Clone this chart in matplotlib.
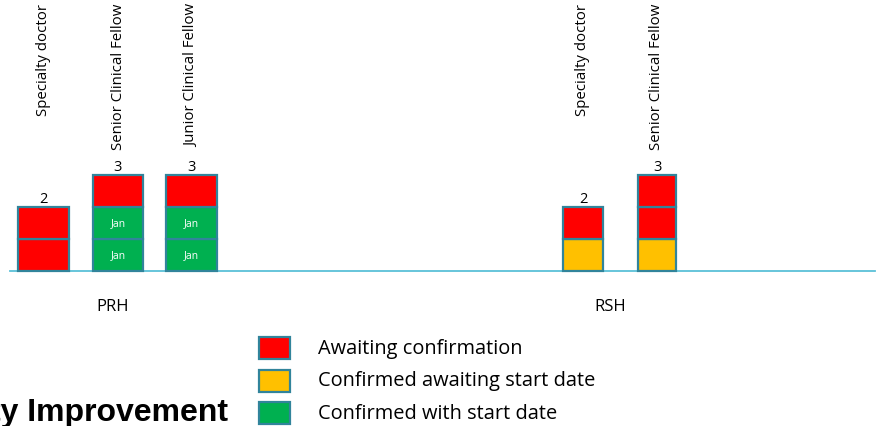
import matplotlib
matplotlib.use('Agg')
import matplotlib.pyplot as plt
from matplotlib.patches import Rectangle

# 数据
roles = ['Specialty doctor', 'Senior Clinical Fellow', 'Junior Clinical Fellow',
         'Specialty doctor', 'Senior Clinical Fellow']
sites = ['PRH', 'RSH']
awaiting = [2, 1, 1, 1, 2]            # 红色
confirmed_waiting = [0, 0, 0, 1, 1]   # 黄色
confirmed_start = [0, 2, 2, 0, 0]     # 绿色
start_month = 'Jan'
legend_labels = ['Awaiting confirmation', 'Confirmed awaiting start date',
                 'Confirmed with start date']

RED, YELLOW, GREEN = '#FF0000', '#FFC000', '#00B050'
EDGE = '#31849B'
LINE = '#5BC0D8'

# 布局 (像素)
W, H = 881, 427
bar_x = [43.5, 118, 191.5, 583, 657]
bar_w = [51, 50, 51, 40, 38]
base_px = 272
unit_px = 32

fig = plt.figure(figsize=(W / 100, H / 100), dpi=100)
ax = fig.add_axes([0, 0, 1, 1])
ax.set_xlim(0, W)
ax.set_ylim(-(H - base_px) / unit_px, base_px / unit_px)
ax.axis('off')

# 覆盖层, 像素坐标
ov = fig.add_axes([0, 0, 1, 1])
ov.set_xlim(0, W)
ov.set_ylim(H, 0)
ov.axis('off')
ov.patch.set_alpha(0)

ax.plot([10, 875], [0, 0], color=LINE, lw=1.3, zorder=1)

for i in range(len(roles)):
    bottom = 0
    for val, col in [(confirmed_start[i], GREEN), (confirmed_waiting[i], YELLOW), (awaiting[i], RED)]:
        for k in range(val):
            ax.bar(bar_x[i], 1, width=bar_w[i], bottom=bottom, color=col,
                   edgecolor=EDGE, linewidth=1.6, zorder=2)
            if col == GREEN:
                ax.text(bar_x[i], bottom + 0.5, start_month, color='white', fontsize=7.5,
                        ha='center', va='center', family='Open Sans', zorder=3)
            bottom += 1
    total = confirmed_start[i] + confirmed_waiting[i] + awaiting[i]
    ax.text(bar_x[i], total + 0.03, str(total), ha='center', va='bottom',
            fontsize=10.5, family='Open Sans')
    ov.text(bar_x[i], 4, roles[i], rotation=90, ha='center', va='top',
            fontsize=10.8, family='Open Sans')

# 站点标签
for name, x in zip(sites, [113, 610]):
    ov.text(x, 307, name, ha='center', va='center', fontsize=12, family='Open Sans')

# 图例
for j, (lab, col) in enumerate(zip(legend_labels, [RED, YELLOW, GREEN])):
    y = 338 + j * 32.5
    ov.add_patch(Rectangle((259, y), 31, 22, facecolor=col, edgecolor=EDGE, lw=1.6))
    ov.text(318, y + 11, lab, ha='left', va='center', fontsize=14.4, family='Open Sans')

ov.text(228, 413, 'Quality Improvement', ha='right', va='center', fontsize=23,
        fontweight='bold', family='Liberation Sans')

fig.savefig('out.png', dpi=100)
